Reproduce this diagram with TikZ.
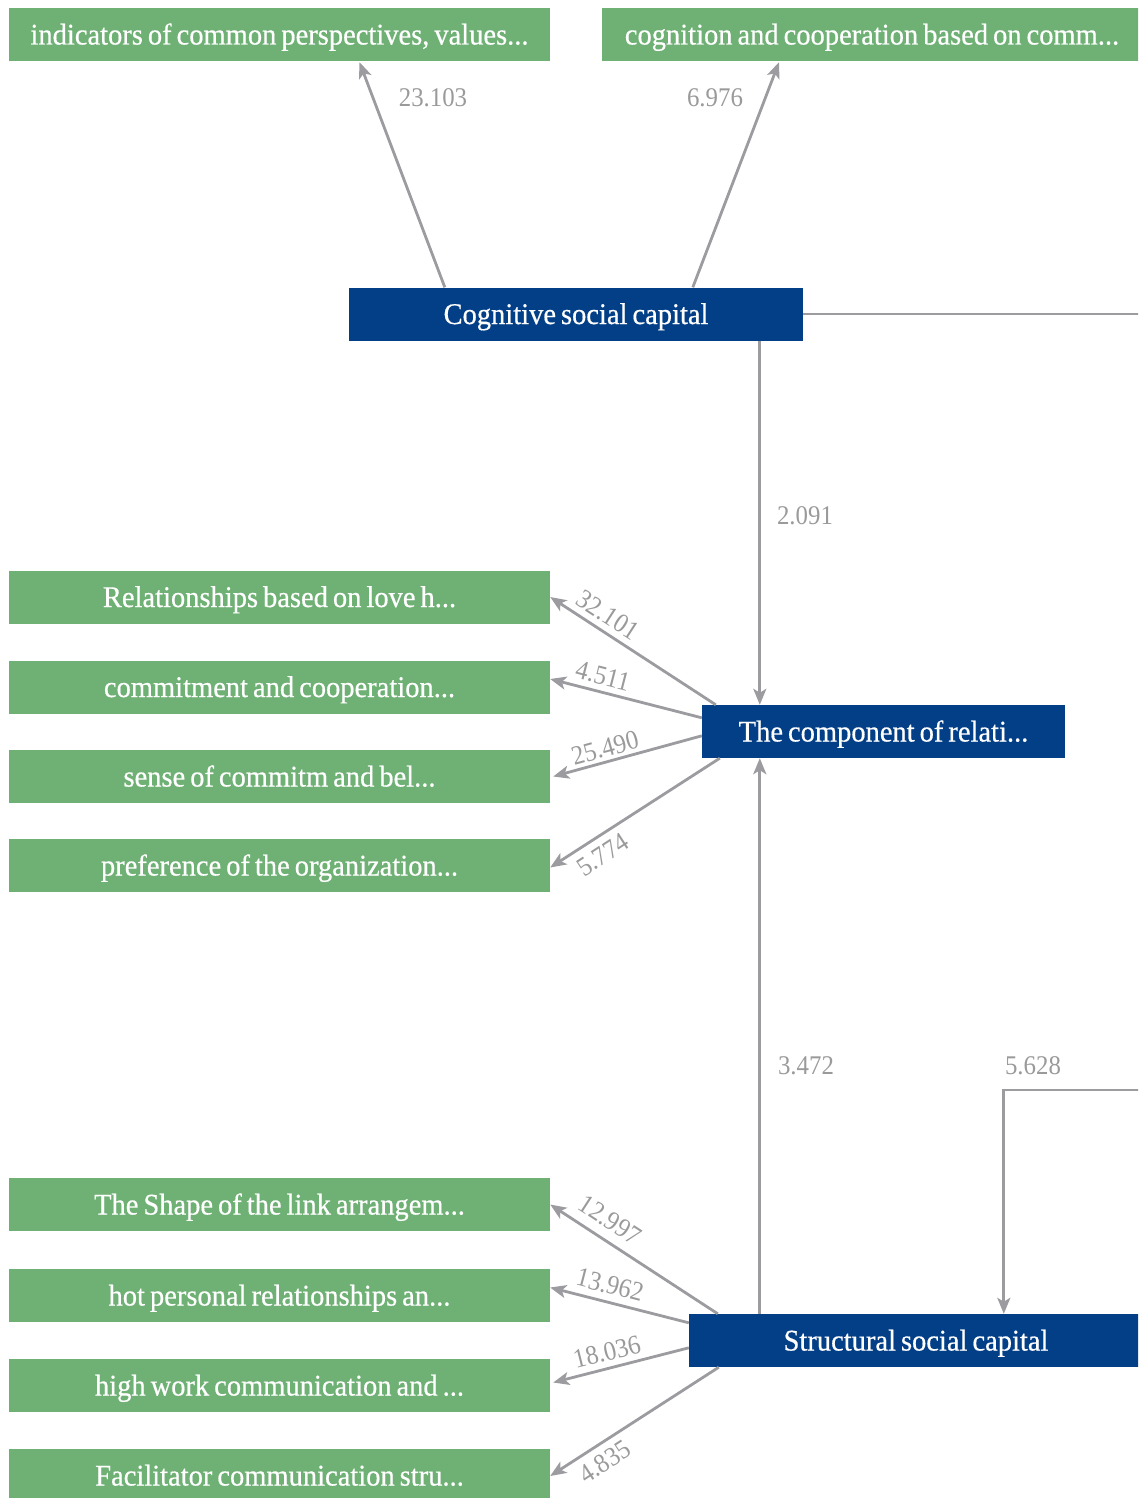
\documentclass[tikz,border=0pt]{standalone}
\usepackage{fontspec}
\setmainfont{Liberation Serif}
\newfontfamily\boxfont[FakeStretch=0.95, WordSpace=0.7, FakeBold=0.5]{Liberation Serif}
\newfontfamily\weightfont[FakeStretch=0.92]{Liberation Serif}
\usetikzlibrary{arrows.meta,calc}

\definecolor{leafgreen}{HTML}{6FB175}
\definecolor{corenavy}{HTML}{033F87}
\definecolor{linkgray}{HTML}{9B9BA0}
\definecolor{weightgray}{HTML}{9A9A9A}

\tikzset{
  indicator/.style={fill=leafgreen, text=white, inner sep=0pt,
    minimum width=541pt, minimum height=53pt,
    text height=25pt, text depth=5pt,
    font=\boxfont\fontsize{30}{30}\selectfont},
  construct/.style={fill=corenavy, text=white, inner sep=0pt,
    minimum height=53pt, text height=25pt, text depth=5pt,
    font=\boxfont\fontsize{30}{30}\selectfont},
  link/.style={draw=linkgray, line width=2.8pt},
  arrowlink/.style={link, -{Stealth[length=16pt, width=13pt, inset=4pt]}},
  weight/.style={text=weightgray, inner sep=0pt,
    font=\weightfont\fontsize{27}{27}\selectfont}
}

\begin{document}
\begin{tikzpicture}[x=1pt, y=-1pt]
\useasboundingbox (0,0) rectangle (1138,1498);
\clip (0,0) rectangle (1138,1498);

% indicator boxes of the cognitive construct
\node[indicator] (cogA) at (279.5,34.5) {indicators of common perspectives, values...};
\node[indicator, minimum width=540pt] (cogB) at (872,34.5) {cognition and cooperation based on comm...};

% the three constructs
\node[construct, minimum width=454pt] (cog) at (576,314) {Cognitive social capital};
\node[construct, minimum width=363pt] (rel) at (883.5,731.5) {The component of relati...};
\node[construct, minimum width=454pt] (str) at (916,1340.5) {Structural social capital};

% indicator boxes of the relational construct
\node[indicator] (relA) at (279.5,597) {Relationships based on love h...};
\node[indicator] (relB) at (279.5,687) {commitment and cooperation...};
\node[indicator] (relC) at (279.5,776.5) {sense of commitm and bel...};
\node[indicator] (relD) at (279.5,865.5) {preference of the organization...};

% indicator boxes of the structural construct
\node[indicator] (strA) at (279.5,1204.5) {The Shape of the link arrangem...};
\node[indicator] (strB) at (279.5,1295.5) {hot personal relationships an...};
\node[indicator] (strC) at (279.5,1385.5) {high work communication and ...};
\node[indicator] (strD) at (279.5,1475.5) {Facilitator communication stru...};

% paths that leave the visible area on the right
\coordinate (outCog) at (1160,314);
\coordinate (outStr) at (1160,1090);
\coordinate (trunk) at ($(cog.south west)+(411,0)$);
\coordinate (strIn) at ($(str.north west)+(315,0)$);

% cognitive construct -> its indicators
\draw[arrowlink] ($(cog.north west)+(96,0)$) -- ($(cogA.south)+(80,1)$);
\draw[arrowlink] ($(cog.north west)+(344,0)$) -- ($(cogB.south)+(-93,1)$);
\node[weight] at (433,98) {23.103};
\node[weight] at (715,98) {6.976};

% links between constructs
\draw[link] (cog.east) -- (outCog);
\draw[arrowlink] (trunk) -- (trunk |- rel.north);
\node[weight] at (805,516) {2.091};
\draw[arrowlink] (trunk |- str.north) -- (trunk |- rel.south);
\node[weight] at (806,1066) {3.472};
\draw[arrowlink] (outStr) -| (strIn);
\node[weight] at (1033,1066) {5.628};

% relational construct -> its indicators
\draw[arrowlink] ($(rel.north west)+(14,0)$) -- (relA.east);
\draw[arrowlink] ($(rel.north west)+(0,13)$) -- ($(relB.east)+(0,-8)$);
\draw[arrowlink] ($(rel.north west)+(0,31)$) -- ($(relC.east)+(3,0)$);
\draw[arrowlink] ($(rel.south west)+(18,0)$) -- ($(relD.east)+(0,2)$);
\node[weight, rotate=-33] at (608,615) {32.101};
\node[weight, rotate=-14.4] at (603,676) {4.511};
\node[weight, rotate=15.4] at (605,748) {25.490};
\node[weight, rotate=33] at (603,855) {5.774};

% structural construct -> its indicators
\draw[arrowlink] ($(str.north west)+(29,0)$) -- (strA.east);
\draw[arrowlink] ($(str.north west)+(0,9)$) -- ($(strB.east)+(0,-8)$);
\draw[arrowlink] ($(str.north west)+(0,34)$) -- ($(strC.east)+(3,-3)$);
\draw[arrowlink] ($(str.south west)+(30,0)$) -- ($(strD.east)+(0,0.5)$);
\node[weight, rotate=-33] at (610,1220) {12.997};
\node[weight, rotate=-14.5] at (610,1285) {13.962};
\node[weight, rotate=14] at (607,1352) {18.036};
\node[weight, rotate=33] at (605,1462) {4.835};
\end{tikzpicture}
\end{document}
